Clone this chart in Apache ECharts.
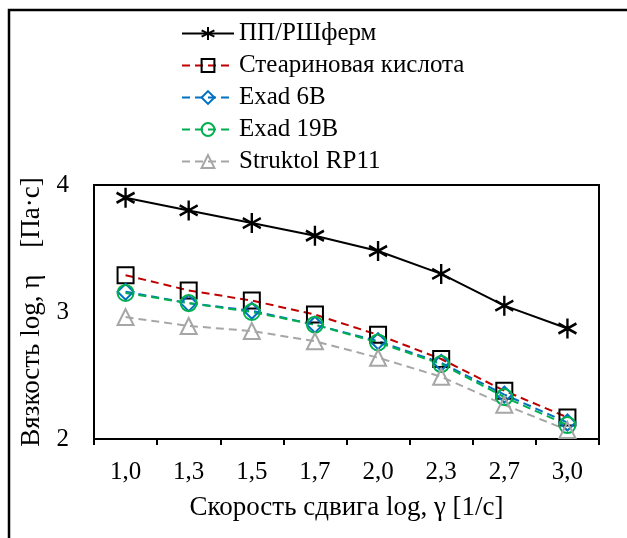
<!DOCTYPE html>
<html lang="ru">
<head>
    <meta charset="UTF-8">
    <title>Вязкость</title>
    <script src="https://cdn.jsdelivr.net/npm/echarts@6/dist/echarts.min.js"></script>
    <style>
        body { margin: 0; padding: 0; background: #fff; }
        #chart { width: 627px; height: 538px; }
    </style>
</head>
<body>
    <div id="chart"></div>
    <script>
        // данные
        var categories = ['1,0', '1,3', '1,5', '1,7', '2,0', '2,3', '2,7', '3,0'];
        var ppFerm = [3.90, 3.80, 3.70, 3.60, 3.48, 3.30, 3.05, 2.87];
        var stearin = [3.29, 3.17, 3.09, 2.98, 2.82, 2.63, 2.38, 2.17];
        var exad6b = [3.16, 3.07, 3.01, 2.90, 2.77, 2.60, 2.35, 2.13];
        var exad19b = [3.15, 3.07, 3.00, 2.90, 2.76, 2.59, 2.33, 2.11];
        var struktol = [2.96, 2.89, 2.85, 2.77, 2.64, 2.49, 2.27, 2.07];

        var font = 'Liberation Serif';
        var star = 'path://M0,-10L0,10M-8.66,-5L8.66,5M-8.66,5L8.66,-5';

        function mkSeries(name, data, lineColor, dash, symbol, size, markColor, bw) {
            return {
                name: name,
                type: 'line',
                data: data,
                symbol: symbol,
                symbolSize: size,
                lineStyle: { color: lineColor, width: 2, type: dash },
                itemStyle: { color: 'none', borderColor: markColor, borderWidth: bw || 2 },
                emphasis: { disabled: true }
            };
        }

        var chart = echarts.init(document.getElementById('chart'));
        chart.setOption({
            animation: false,
            textStyle: { fontFamily: font },
            graphic: [{
                type: 'rect',
                shape: { x: 9, y: 10, width: 700, height: 700 },
                style: { fill: 'none', stroke: '#000', lineWidth: 2.5 }
            }],
            grid: {
                left: 94, top: 185, right: 28, bottom: 99,
                show: true, borderColor: '#000', borderWidth: 2
            },
            legend: {
                orient: 'vertical',
                left: 176, top: 16,
                itemWidth: 52, itemHeight: 16, itemGap: 7,
                lineStyle: { width: 2 },
                textStyle: { fontFamily: font, fontSize: 25, lineHeight: 25, color: '#000', padding: [0, 0, 0, 0] },
                data: ['ПП/РШферм', 'Стеариновая кислота', 'Exad 6B', 'Exad 19B', 'Struktol RP11']
            },
            xAxis: {
                type: 'category',
                data: categories,
                name: 'Скорость сдвига log, γ [1/с]',
                nameLocation: 'middle',
                nameGap: 55,
                nameTextStyle: { fontFamily: font, fontSize: 27, color: '#000' },
                axisLine: { lineStyle: { color: '#000', width: 2 } },
                axisTick: { show: true, length: 6, inside: false, lineStyle: { color: '#000', width: 2 } },
                axisLabel: { fontFamily: font, fontSize: 25, color: '#000', margin: 21 }
            },
            yAxis: {
                type: 'value',
                min: 2, max: 4, interval: 1,
                name: 'Вязкость log, η    [Па·с]',
                nameLocation: 'middle',
                nameGap: 48,
                nameTextStyle: { fontFamily: font, fontSize: 27, color: '#000' },
                axisLine: { show: true, lineStyle: { color: '#000', width: 2 } },
                axisTick: { show: false },
                splitLine: { show: false },
                axisLabel: { fontFamily: font, fontSize: 25, color: '#000', margin: 25 }
            },
            series: [
                mkSeries('ПП/РШферм', ppFerm, '#000', 'solid', star, [18, 20], '#000', 2.5),
                mkSeries('Стеариновая кислота', stearin, '#c00000', [8, 5], 'rect', 16, '#000'),
                mkSeries('Exad 6B', exad6b, '#0070c0', [8, 5], 'diamond', 16, '#0070c0'),
                mkSeries('Exad 19B', exad19b, '#00b050', [8, 5], 'circle', 16, '#00b050'),
                mkSeries('Struktol RP11', struktol, '#a6a6a6', [8, 5], 'triangle', 16, '#a6a6a6')
            ]
        });
    </script>
</body>
</html>
